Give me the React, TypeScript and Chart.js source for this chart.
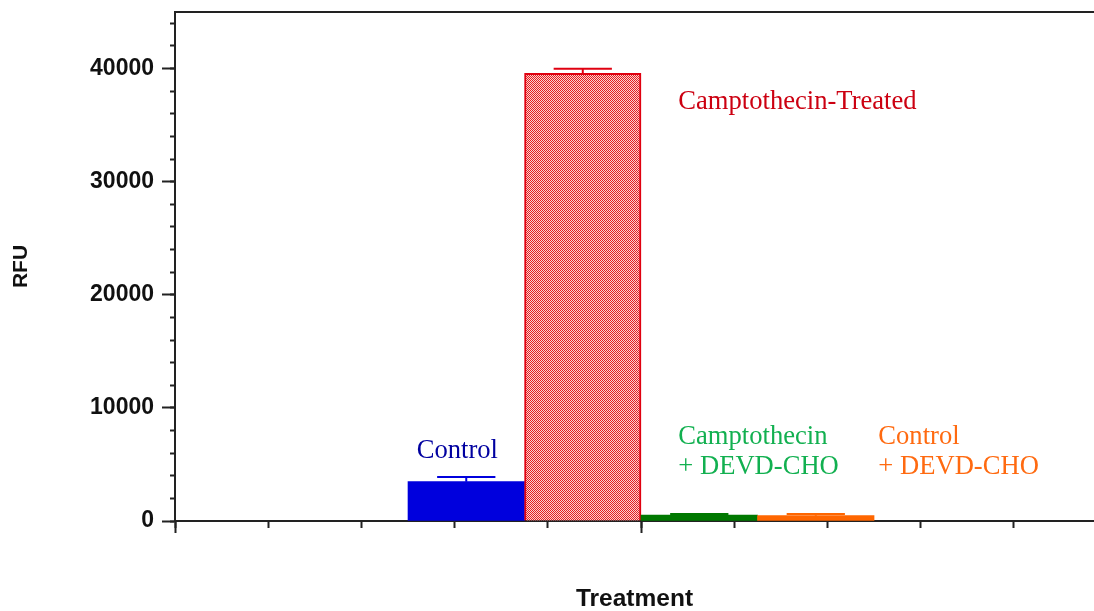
import React, { useEffect, useRef } from 'react';
import { Chart, registerables } from 'chart.js';

Chart.register(...registerables);

// ---- data ----
const categories = ['Control', 'Camptothecin-Treated', 'Camptothecin + DEVD-CHO', 'Control + DEVD-CHO'];
const barPositions = [3.125, 4.375, 5.625, 6.875];
const rfuValues = [3475, 39580, 530, 470];
const errorTops = [3890, 39990, 620, 620];
const yMajorTicks = [0, 10000, 20000, 30000, 40000];
const yMinorTicks = [0, 2000, 4000, 6000, 8000, 10000, 12000, 14000, 16000, 18000, 20000, 22000, 24000, 26000, 28000, 30000, 32000, 34000, 36000, 38000, 40000, 42000, 44000];
const xTicks = [0, 1, 2, 3, 4, 5, 6, 7, 8, 9];
const xLongTicks = [0, 5];
const labelLines = [['Control'], ['Camptothecin-Treated'], ['Camptothecin', '+ DEVD-CHO'], ['Control', '+ DEVD-CHO']];
const labelAnchorX = [2.593, 5.4, 5.4, 7.546];
const labelAnchorY = [5570, 36420, 6810, 6810];

// ---- styles ----
const barColors = ['#0000dd', 'PATTERN', '#007800', '#ff6600'];
const errorColors = ['#0000dd', '#e00010', '#007800', '#ff6600'];
const labelColors = ['#0000a0', '#cc0011', '#12b050', '#ff6a10'];
const axisColor = '#222222';
const capHalfWidth = 0.3125;

export default function App() {
  const ref = useRef<HTMLCanvasElement>(null);

  useEffect(() => {
    const canvas = ref.current!;
    const ctx0 = canvas.getContext('2d')!;
    const tile = document.createElement('canvas');
    tile.width = 2;
    tile.height = 2;
    const tctx = tile.getContext('2d')!;
    tctx.fillStyle = '#e42020';
    tctx.fillRect(0, 0, 2, 2);
    tctx.fillStyle = '#fbd2d2';
    tctx.fillRect(1, 0, 1, 1);
    tctx.fillRect(0, 1, 1, 1);
    const pattern = ctx0.createPattern(tile, 'repeat')!;

    const bg = barColors.map((c) => (c === 'PATTERN' ? pattern : c));

    const overlay = {
      id: 'overlay',
      afterDatasetsDraw(chart: any) {
        const { ctx, scales } = chart;
        const xs = scales.x;
        const ys = scales.y;
        ctx.save();
        ctx.lineWidth = 2;
        barPositions.forEach((p, i) => {
          const cx = xs.getPixelForValue(p);
          const yTop = ys.getPixelForValue(errorTops[i]);
          const yVal = ys.getPixelForValue(rfuValues[i]);
          const half = Math.abs(xs.getPixelForValue(p + capHalfWidth) - cx);
          ctx.strokeStyle = errorColors[i];
          ctx.beginPath();
          ctx.moveTo(cx, yVal);
          ctx.lineTo(cx, yTop);
          ctx.moveTo(cx - half, yTop);
          ctx.lineTo(cx + half, yTop);
          ctx.stroke();
        });
        ctx.restore();
      },
      afterDraw(chart: any) {
        const { ctx, chartArea, scales } = chart;
        ctx.save();
        ctx.strokeStyle = axisColor;
        ctx.lineWidth = 2;
        ctx.beginPath();
        ctx.moveTo(chartArea.left - 1, chartArea.top);
        ctx.lineTo(chartArea.right, chartArea.top);
        ctx.stroke();

        ctx.font = '26.6px "Liberation Serif", "Times New Roman", serif';
        ctx.textAlign = 'left';
        ctx.textBaseline = 'alphabetic';
        labelLines.forEach((lines, i) => {
          const x = scales.x.getPixelForValue(labelAnchorX[i]);
          const y = scales.y.getPixelForValue(labelAnchorY[i]);
          ctx.fillStyle = labelColors[i];
          lines.forEach((t, j) => ctx.fillText(t, x, y + j * 30));
        });
        ctx.restore();
      },
    };

    const noPad = (s: any) => {
      s.paddingTop = 0;
      s.paddingBottom = 0;
      s.paddingLeft = 0;
      s.paddingRight = 0;
    };

    const chart = new Chart(canvas, {
      type: 'bar',
      data: {
        labels: categories,
        datasets: [
          {
            label: 'RFU',
            data: barPositions.map((x, i) => ({ x, y: rfuValues[i] })),
            backgroundColor: bg as any,
            borderColor: ['#0000dd', '#e00010', '#007800', '#ff6600'],
            borderWidth: [0, 2, 0, 0],
            borderSkipped: 'start',
            barThickness: 'flex',
            categoryPercentage: 1,
            barPercentage: 1,
            xAxisID: 'x',
            yAxisID: 'y',
          } as any,
        ],
      },
      options: {
        responsive: false,
        animation: false,
        devicePixelRatio: 1,
        layout: { padding: { top: 12, left: 0, right: 0, bottom: 0 } },
        plugins: { legend: { display: false }, tooltip: { enabled: false } },
        scales: {
          x: {
            type: 'linear',
            position: 'bottom',
            weight: 1,
            min: 0,
            max: 9.86,
            offset: false,
            afterBuildTicks: (s: any) => {
              s.ticks = xTicks.map((v) => ({ value: v }));
            },
            afterFit: (s: any) => {
              s.height = 90;
              noPad(s);
            },
            ticks: { display: false },
            grid: { offset: false, drawOnChartArea: false, tickLength: 7, tickWidth: 2, tickColor: axisColor },
            border: { display: true, color: axisColor, width: 2 },
            title: {
              display: true,
              text: 'Treatment',
              color: '#111',
              font: { family: 'Liberation Sans', size: 24.5, weight: 'bold', lineHeight: 1 },
              padding: { top: 0, bottom: -0.5 },
            },
          },
          xLong: {
            type: 'linear',
            position: 'bottom',
            weight: 0,
            min: 0,
            max: 9.86,
            offset: false,
            afterBuildTicks: (s: any) => {
              s.ticks = xLongTicks.map((v) => ({ value: v }));
            },
            afterFit: (s: any) => {
              s.height = 0;
              noPad(s);
            },
            ticks: { display: false },
            grid: { offset: false, drawOnChartArea: false, tickLength: 12, tickWidth: 2, tickColor: axisColor },
            border: { display: false },
          },
          y: {
            type: 'linear',
            position: 'left',
            weight: 1,
            min: 0,
            max: 45000,
            afterBuildTicks: (s: any) => {
              s.ticks = yMajorTicks.map((v) => ({ value: v }));
            },
            afterFit: (s: any) => {
              s.width = 175;
              noPad(s);
            },
            ticks: {
              color: '#111',
              padding: 8,
              font: { family: 'Liberation Sans', size: 23, weight: 'bold' },
              callback: (v: any) => String(v),
            },
            grid: { drawOnChartArea: false, tickLength: 13, tickWidth: 2, tickColor: axisColor },
            border: { display: true, color: axisColor, width: 2 },
            title: {
              display: true,
              text: 'RFU',
              color: '#111',
              font: { family: 'Liberation Sans', size: 21, weight: 'bold', lineHeight: 1 },
              padding: { top: 11, bottom: 0 },
            },
          },
          yMinor: {
            type: 'linear',
            position: 'left',
            weight: 0,
            min: 0,
            max: 45000,
            afterBuildTicks: (s: any) => {
              s.ticks = yMinorTicks.map((v) => ({ value: v }));
            },
            afterFit: (s: any) => {
              s.width = 0;
              noPad(s);
            },
            ticks: { display: false },
            grid: { drawOnChartArea: false, tickLength: 5, tickWidth: 2, tickColor: axisColor },
            border: { display: false },
          },
        },
      } as any,
      plugins: [overlay],
    });

    return () => chart.destroy();
  }, []);

  return (
    <div style={{ position: 'absolute', left: 0, top: 0, width: 1094, height: 611, background: '#fff' }}>
      <canvas ref={ref} width={1094} height={611} style={{ display: 'block', width: 1094, height: 611 }} />
    </div>
  );
}
